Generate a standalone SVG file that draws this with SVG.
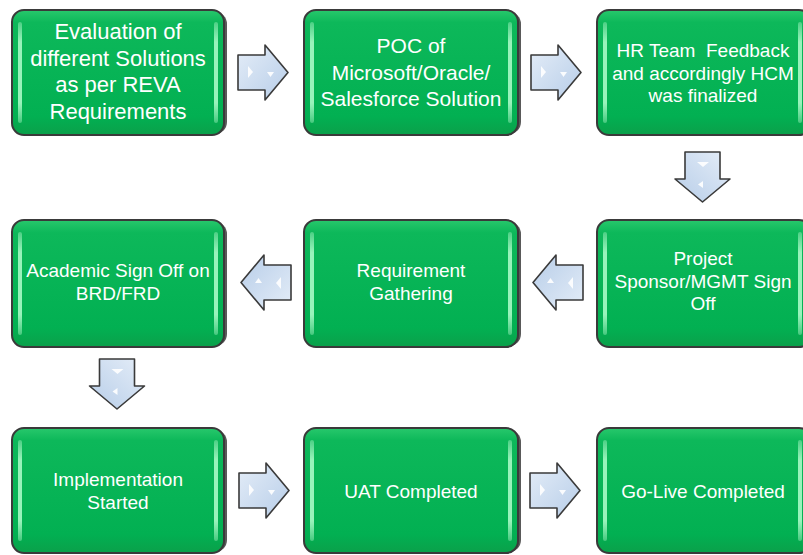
<svg xmlns="http://www.w3.org/2000/svg" xmlns:xlink="http://www.w3.org/1999/xlink" width="803" height="555" viewBox="0 0 803 555">
<style>
.shadow{fill:#3c3c3c;opacity:0.85}
.box{fill:url(#gBox);stroke:#3a3a3a;stroke-width:2}
.hl{fill:url(#gHl)}
.t{fill:#ffffff;font-family:"Liberation Sans",Arial,sans-serif;text-anchor:middle}
.s22{font-size:22px}
.s21{font-size:21px}
.s19{font-size:19px}
.arr{fill:url(#gArr);stroke:#3a3a3a;stroke-width:1.6;stroke-linejoin:round}
.spot{fill:#ffffff;opacity:0.9}
</style>
<defs>
<linearGradient id="gBox" x1="0" y1="0" x2="0" y2="1">
<stop offset="0" stop-color="#28c86c"/>
<stop offset="0.1" stop-color="#0db85a"/>
<stop offset="0.85" stop-color="#02b052"/>
<stop offset="1" stop-color="#0aa04a"/>
</linearGradient>
<linearGradient id="gHl" x1="0" y1="0" x2="0" y2="1">
<stop offset="0" stop-color="#a8f5c4" stop-opacity="0.4"/>
<stop offset="0.2" stop-color="#98f3bb"/>
<stop offset="0.8" stop-color="#98f3bb"/>
<stop offset="1" stop-color="#a8f5c4" stop-opacity="0.4"/>
</linearGradient>
<linearGradient id="gArr" x1="0" y1="0" x2="1" y2="1">
<stop offset="0" stop-color="#e4edf8"/>
<stop offset="1" stop-color="#b7cde8"/>
</linearGradient>
<g id="arrow">
<path class="arr" d="M0,10 H27 V0 L50,27.5 L27,55 V45 H0 Z"/>
<path class="spot" d="M10,21 L15,27 L10,33 Z"/>
<path class="spot" d="M29,27 L36,27 L32.5,32 Z"/>
</g>
</defs>
<rect width="803" height="555" fill="#ffffff"/>

<g id="connectors">
<use xlink:href="#arrow" transform="translate(238,45)"/>
<use xlink:href="#arrow" transform="translate(531,45)"/>
<use xlink:href="#arrow" transform="translate(730,152) rotate(90)"/>
<use xlink:href="#arrow" transform="translate(583,310) rotate(180)"/>
<use xlink:href="#arrow" transform="translate(291,310) rotate(180)"/>
<use xlink:href="#arrow" transform="translate(144.5,359) rotate(90)"/>
<use xlink:href="#arrow" transform="translate(239,463)"/>
<use xlink:href="#arrow" transform="translate(530,463)"/>
</g>

<g id="node1">
<rect class="shadow" x="15" y="12" width="212" height="122" rx="12"/>
<rect class="box" x="12" y="10" width="212" height="125" rx="12"/>
<rect class="hl" x="18" y="22" width="4" height="101" rx="2"/>
<rect class="hl" x="214" y="22" width="4" height="101" rx="2"/>
<text class="t s22" x="118" y="39">Evaluation of</text>
<text class="t s22" x="118" y="65.5">different Solutions</text>
<text class="t s22" x="118" y="92">as per REVA</text>
<text class="t s22" x="118" y="118.5">Requirements</text>
</g>

<g id="node2">
<rect class="shadow" x="307" y="12" width="214" height="122" rx="12"/>
<rect class="box" x="304" y="10" width="214" height="125" rx="12"/>
<rect class="hl" x="310" y="22" width="4" height="101" rx="2"/>
<rect class="hl" x="508" y="22" width="4" height="101" rx="2"/>
<text class="t s21" x="411" y="53">POC of</text>
<text class="t s21" x="411" y="80">Microsoft/Oracle/</text>
<text class="t s21" x="411" y="106">Salesforce Solution</text>
</g>

<g id="node3">
<rect class="shadow" x="600" y="12" width="214" height="122" rx="12"/>
<rect class="box" x="597" y="10" width="214" height="125" rx="12"/>
<rect class="hl" x="603" y="22" width="4" height="101" rx="2"/>
<rect class="hl" x="798" y="22" width="4" height="101" rx="2"/>
<text class="t s19" x="703" y="57" xml:space="preserve">HR Team  Feedback</text>
<text class="t s19" x="703" y="80">and accordingly HCM</text>
<text class="t s19" x="703" y="102">was finalized</text>
</g>

<g id="node4">
<rect class="shadow" x="600" y="222" width="214" height="124" rx="12"/>
<rect class="box" x="597" y="220" width="214" height="127" rx="12"/>
<rect class="hl" x="603" y="232" width="4" height="103" rx="2"/>
<rect class="hl" x="798" y="232" width="4" height="103" rx="2"/>
<text class="t s19" x="703" y="265">Project</text>
<text class="t s19" x="703" y="288">Sponsor/MGMT Sign</text>
<text class="t s19" x="703" y="310">Off</text>
</g>

<g id="node5">
<rect class="shadow" x="307" y="222" width="214" height="124" rx="12"/>
<rect class="box" x="304" y="220" width="214" height="127" rx="12"/>
<rect class="hl" x="310" y="232" width="4" height="103" rx="2"/>
<rect class="hl" x="508" y="232" width="4" height="103" rx="2"/>
<text class="t s19" x="411" y="277">Requirement</text>
<text class="t s19" x="411" y="300">Gathering</text>
</g>

<g id="node6">
<rect class="shadow" x="15" y="222" width="212" height="124" rx="12"/>
<rect class="box" x="12" y="220" width="212" height="127" rx="12"/>
<rect class="hl" x="18" y="232" width="4" height="103" rx="2"/>
<rect class="hl" x="214" y="232" width="4" height="103" rx="2"/>
<text class="t s19" x="118" y="277">Academic Sign Off on</text>
<text class="t s19" x="118" y="300">BRD/FRD</text>
</g>

<g id="node7">
<rect class="shadow" x="15" y="430" width="212" height="122" rx="12"/>
<rect class="box" x="12" y="428" width="212" height="125" rx="12"/>
<rect class="hl" x="18" y="440" width="4" height="101" rx="2"/>
<rect class="hl" x="214" y="440" width="4" height="101" rx="2"/>
<text class="t s19" x="118" y="486">Implementation</text>
<text class="t s19" x="118" y="509">Started</text>
</g>

<g id="node8">
<rect class="shadow" x="307" y="430" width="214" height="122" rx="12"/>
<rect class="box" x="304" y="428" width="214" height="125" rx="12"/>
<rect class="hl" x="310" y="440" width="4" height="101" rx="2"/>
<rect class="hl" x="508" y="440" width="4" height="101" rx="2"/>
<text class="t s19" x="411" y="498">UAT Completed</text>
</g>

<g id="node9">
<rect class="shadow" x="600" y="430" width="214" height="122" rx="12"/>
<rect class="box" x="597" y="428" width="214" height="125" rx="12"/>
<rect class="hl" x="603" y="440" width="4" height="101" rx="2"/>
<rect class="hl" x="798" y="440" width="4" height="101" rx="2"/>
<text class="t s19" x="703" y="498">Go-Live Completed</text>
</g>
</svg>
